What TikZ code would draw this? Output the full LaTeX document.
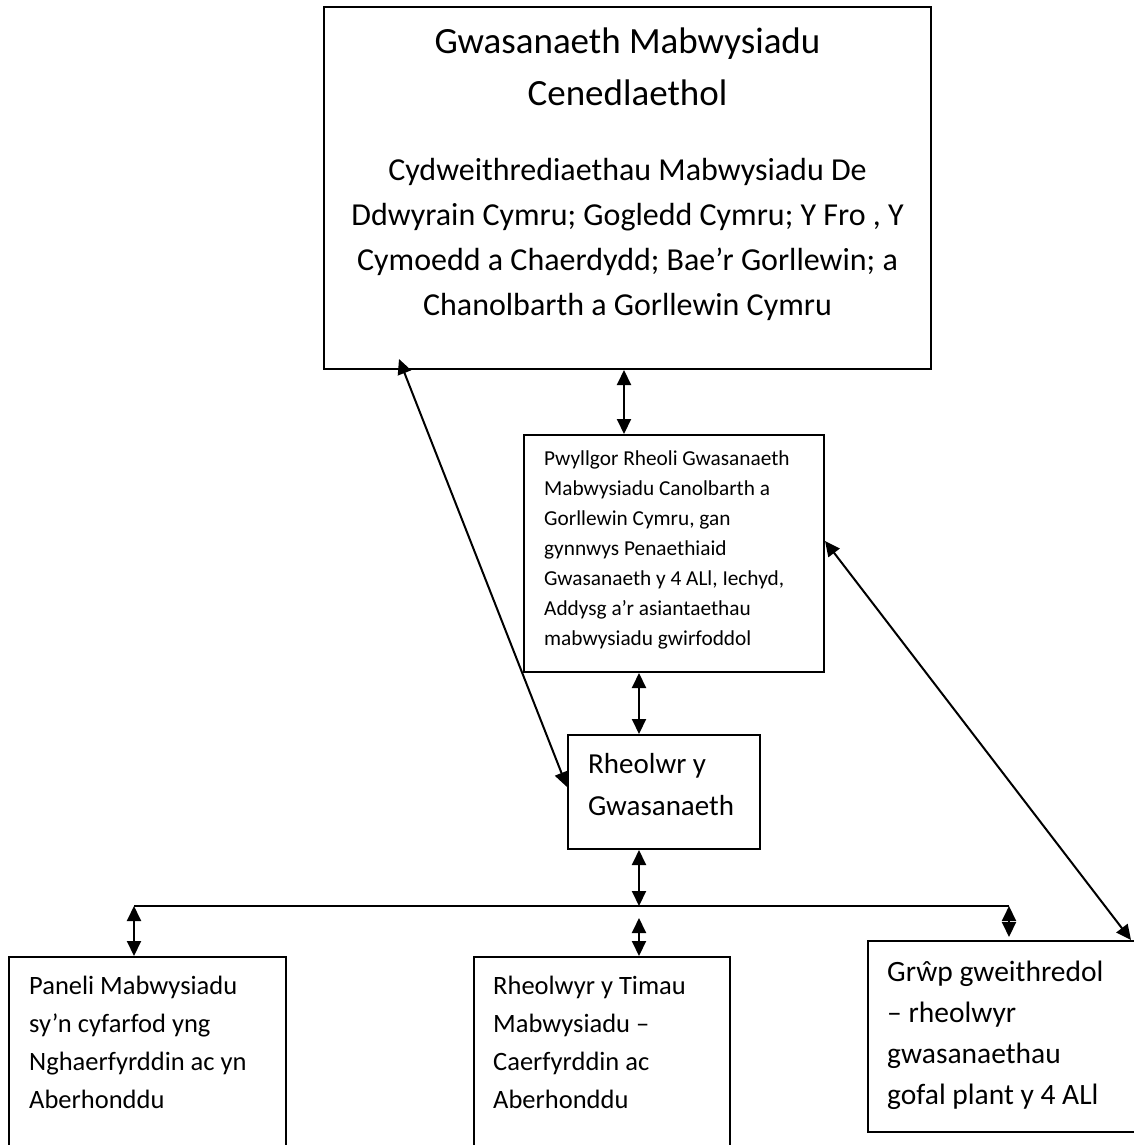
\documentclass[tikz,border=0pt]{standalone}
\usepackage{fontspec}
\setmainfont{Carlito}
\usetikzlibrary{arrows.meta}

\begin{document}
\begin{tikzpicture}[x=1pt, y=-1pt,
    box/.style={draw, line width=2pt, inner sep=0pt},
    txt/.style={inner sep=0pt, align=left, anchor=north west},
    link/.style={line width=2pt, {Triangle[length=15pt,width=14pt]}-{Triangle[length=15pt,width=14pt]}}]
    \useasboundingbox (0,0) rectangle (1134,1145);

    % National service
    \node[box, minimum width=607pt, minimum height=362pt] (nat) at (627.5,188) {};
    \node[inner sep=0pt, anchor=north, align=center, font=\fontsize{37}{52}\selectfont] (natTitle)
        at ([yshift=-22pt]nat.north) {Gwasanaeth Mabwysiadu\\Cenedlaethol};
    \node[inner sep=0pt, anchor=north, align=center, font=\fontsize{32}{45}\selectfont] (natBody)
        at ([yshift=-152pt]nat.north) {Cydweithrediaethau Mabwysiadu De\\Ddwyrain Cymru; Gogledd Cymru; Y Fro , Y\\Cymoedd a Chaerdydd; Bae’r Gorllewin; a\\Chanolbarth a Gorllewin Cymru};

    % Management committee
    \node[box, minimum width=300pt, minimum height=237pt] (board) at (674,553.5) {};
    \node[txt, font=\fontsize{21.3}{30}\selectfont] (boardText) at ([xshift=21pt,yshift=-17pt]board.north west)
        {Pwyllgor Rheoli Gwasanaeth\\Mabwysiadu Canolbarth a\\Gorllewin Cymru, gan\\gynnwys Penaethiaid\\Gwasanaeth y 4 ALl, Iechyd,\\Addysg a’r asiantaethau\\mabwysiadu gwirfoddol};

    % Service manager
    \node[box, minimum width=192pt, minimum height=114pt] (mgr) at (664,792) {};
    \node[txt, font=\fontsize{29}{42}\selectfont] (mgrText) at ([xshift=21pt,yshift=-19.5pt]mgr.north west)
        {Rheolwr y\\Gwasanaeth};

    % Bottom row
    \node[box, minimum width=277pt, minimum height=203pt] (panel) at (147.5,1058.5) {};
    \node[txt, font=\fontsize{26.5}{38}\selectfont] (panelText) at ([xshift=21pt,yshift=-19.5pt]panel.north west)
        {Paneli Mabwysiadu\\sy’n cyfarfod yng\\Nghaerfyrddin ac yn\\Aberhonddu};

    \node[box, minimum width=256pt, minimum height=203pt] (teams) at (602,1058.5) {};
    \node[txt, font=\fontsize{26.5}{38}\selectfont] (teamsText) at ([xshift=20pt,yshift=-19.5pt]teams.north west)
        {Rheolwyr y Timau\\Mabwysiadu –\\Caerfyrddin ac\\Aberhonddu};

    \node[box, minimum width=272pt, minimum height=191pt] (group) at (1004,1036.5) {};
    \node[txt, font=\fontsize{29.5}{41}\selectfont] (groupText) at ([xshift=20pt,yshift=-21pt]group.north west)
        {Grŵp gweithredol\\– rheolwyr\\gwasanaethau\\gofal plant y 4 ALl};

    % Links
    \draw[link] ([xshift=-50pt]board.north |- nat.south) -- ([xshift=-50pt]board.north);
    \draw[link] ([xshift=76pt,yshift=11pt]nat.south west) -- ([yshift=5pt]mgr.west);
    \draw[link] ([xshift=-35pt]board.south) -- ([xshift=-25pt]mgr.north);
    \draw[link] ([yshift=12.5pt]board.east) -- ([xshift=-10pt]group.north east);

    % Bus
    \coordinate (bus) at ([xshift=-25pt,yshift=-56pt]mgr.south);
    \draw[link] ([xshift=-25pt]mgr.south) -- (bus);
    \draw[line width=2pt] (bus -| panel.north) ++(-13.5,0) -- ([xshift=5pt]bus -| group.north);
    \draw[link] ([xshift=-13.5pt]bus -| panel.north) -- ([xshift=-13.5pt]panel.north);
    \draw[link] ([yshift=-12pt]bus -| teams.north) ++(37,0) -- ([xshift=37pt]teams.north);
    \draw[link] ([xshift=5pt]bus -| group.north) -- ([xshift=5pt,yshift=3pt]group.north);
\end{tikzpicture}
\end{document}
